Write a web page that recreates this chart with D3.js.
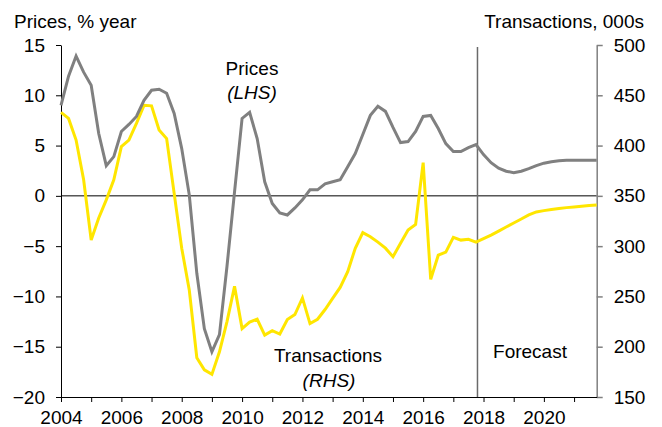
<!DOCTYPE html>
<html>
<head>
<meta charset="utf-8">
<script src="https://cdn.jsdelivr.net/npm/d3@7"></script>
<style>
    body { margin: 0; background: #fff; }
    svg { display: block; font-family: "Liberation Sans", Arial, sans-serif; }
</style>
</head>
<body>
<div id="chart"></div>
<script>
// ── Data: quarterly, 2004 Q1 → 2021 Q4 (forecast from 2017 Q4) ──
const startYear = 2004;
const endYear = 2021;
const forecastIndex = 55;

// House prices, % year (LHS)
const prices = [
    9.0, 11.9, 13.9, 12.3, 11.0, 6.2, 3.0, 3.9,
    6.4, 7.1, 7.9, 9.5, 10.5, 10.6, 10.2, 8.2,
    4.7, 0.1, -7.7, -13.2, -15.5, -13.8, -7.0, 0.4,
    7.7, 8.3, 5.7, 1.4, -0.75, -1.7, -1.9, -1.2,
    -0.4, 0.6, 0.6, 1.2, 1.4, 1.6, 2.9, 4.2,
    6.1, 8.0, 8.9, 8.4, 6.8, 5.3, 5.4, 6.4,
    7.9, 8.0, 6.7, 5.2, 4.4, 4.4, 4.8, 5.1,
    4.1, 3.3, 2.75, 2.45, 2.3, 2.45, 2.7, 3.0,
    3.25, 3.4, 3.5, 3.55, 3.55, 3.55, 3.55, 3.55
];

// Transactions, 000s (RHS)
const transactions = [
    433, 427, 405.5, 366, 306, 328, 346, 366,
    399, 405.5, 422, 440, 439.5, 415.5, 407, 352.5,
    298, 256.5, 189, 177, 172.5, 195, 225, 260,
    218, 224.5, 227.3, 211.6, 216, 212.6, 227, 232,
    248.5, 223, 227.3, 237, 248, 259, 274.6, 297.9,
    313.4, 309.4, 304, 298, 289.5, 302.8, 316, 321.5,
    383, 267, 291, 294, 308.7, 306, 306.8, 304,
    307.5, 311, 315, 319, 323, 327, 331, 334,
    335.3, 336.5, 337.5, 338.3, 339, 339.7, 340.3, 341
];

const leftTicks = [-20, -15, -10, -5, 0, 5, 10, 15];
const rightTicks = [150, 200, 250, 300, 350, 400, 450, 500];
const yearLabels = [2004, 2006, 2008, 2010, 2012, 2014, 2016, 2018, 2020];

const WIDTH = 662;
const HEIGHT = 427;
const GREY = "#808080";
const YELLOW = "#ffe600";

// ── Scales ──
const n = prices.length;
const x = d3.scaleLinear().domain([0, n - 1]).range([61, 596.7]);
const yL = d3.scaleLinear().domain([-20, 15]).range([397, 45]);
const yR = d3.scaleLinear().domain([150, 500]).range([397, 45]);

// quarter index of each year start
const yearIdx = y => (y - startYear) * 4;

const svg = d3.select("#chart")
    .append("svg")
    .attr("width", WIDTH)
    .attr("height", HEIGHT);

// ── Zero line and forecast divider ──
svg.append("line")
    .attr("x1", x(0)).attr("x2", x(n - 1))
    .attr("y1", yL(0)).attr("y2", yL(0))
    .attr("stroke", "#000").attr("stroke-width", 1);

svg.append("line")
    .attr("x1", x(forecastIndex) + 1.5).attr("x2", x(forecastIndex) + 1.5)
    .attr("y1", 47).attr("y2", yL(-20))
    .attr("stroke", "#6a6a6a").attr("stroke-width", 1.5);

// ── Axes ──
const leftAxis = svg.append("g")
    .attr("transform", `translate(${x(0)},0)`)
    .call(d3.axisLeft(yL).tickValues(leftTicks).tickSize(5).tickSizeOuter(0).tickPadding(11));

const rightAxis = svg.append("g")
    .attr("transform", `translate(${x(n - 1)},0)`)
    .call(d3.axisRight(yR).tickValues(rightTicks).tickSize(6).tickSizeOuter(0).tickPadding(11));

const bottomAxis = svg.append("g")
    .attr("transform", `translate(0,${yL(-20)})`)
    .call(d3.axisBottom(x)
        .tickValues(d3.range(startYear, endYear + 1).map(yearIdx))
        .tickFormat(i => {
            const yr = startYear + i / 4;
            return yearLabels.includes(yr) ? yr : "";
        })
        .tickSize(5).tickSizeOuter(0).tickPadding(9));

[leftAxis, rightAxis, bottomAxis].forEach(g => {
    g.selectAll("text").attr("font-size", 19).attr("fill", "#000")
        .attr("font-family", "Liberation Sans, Arial, sans-serif");
});
leftAxis.selectAll("path, line").attr("stroke", "#000");
bottomAxis.selectAll("path, line").attr("stroke", "#000");
rightAxis.selectAll("path, line").attr("stroke", GREY).attr("stroke-width", 1.5);

// ── Series lines ──
svg.append("path")
    .datum(transactions)
    .attr("fill", "none")
    .attr("stroke", YELLOW)
    .attr("stroke-width", 3)
    .attr("d", d3.line().x((d, i) => x(i)).y(d => yR(d)));

svg.append("path")
    .datum(prices)
    .attr("fill", "none")
    .attr("stroke", GREY)
    .attr("stroke-width", 3)
    .attr("d", d3.line().x((d, i) => x(i)).y(d => yL(d)));

// ── Texts ──
const txt = (s, tx, ty, anchor, italic) => svg.append("text")
    .attr("x", tx).attr("y", ty)
    .attr("text-anchor", anchor)
    .attr("font-size", 19)
    .attr("font-style", italic ? "italic" : "normal")
    .attr("fill", "#000")
    .text(s);

txt("Prices, % year", 14, 28, "start");
txt("Transactions, 000s", 644, 28, "end");
txt("Prices", 252, 75, "middle");
txt("(LHS)", 252, 99, "middle", true);
txt("Transactions", 328, 362, "middle");
txt("(RHS)", 329, 387, "middle", true);
txt("Forecast", 530, 358, "middle");
</script>
</body>
</html>
